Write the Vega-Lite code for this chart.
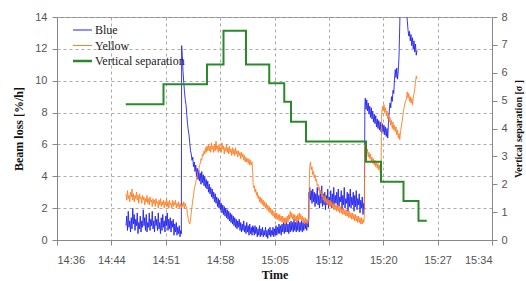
{
  "$schema": "https://vega.github.io/schema/vega-lite/v6.json",
  "width": 435,
  "height": 223,
  "autosize": {"type": "none"},
  "padding": {"left": 57, "top": 17, "right": 34, "bottom": 41},
  "background": "white",
  "config": {
    "view": {"stroke": "#8c8c8c", "strokeWidth": 1},
    "axis": {
      "labelFont": "Liberation Sans",
      "labelFontSize": 11,
      "labelColor": "#555555",
      "titleFont": "Liberation Serif",
      "titleFontWeight": "bold",
      "titleColor": "#111111",
      "domainColor": "#888888",
      "tickColor": "#888888",
      "gridColor": "#aaaaaa",
      "gridDash": [3, 3],
      "tickSize": 5
    }
  },
  "layer": [
    {
      "data": {
        "values": [
          {"t":9.2,"Blue":0.9,"Yellow":2.9},{"t":9.3,"Blue":1.5,"Yellow":2.5},{"t":9.4,"Blue":0.6,"Yellow":3.1},{"t":9.5,"Blue":1.8,"Yellow":2.6},{"t":9.6,"Blue":0.8,"Yellow":2.8},{"t":9.7,"Blue":1.2,"Yellow":2.4},{"t":9.8,"Blue":0.5,"Yellow":3.0},{"t":9.9,"Blue":1.4,"Yellow":2.7},
          {"t":10.0,"Blue":0.7,"Yellow":3.2},{"t":10.1,"Blue":2.0,"Yellow":2.5},{"t":10.2,"Blue":1.0,"Yellow":2.9},{"t":10.3,"Blue":1.6,"Yellow":2.4},{"t":10.4,"Blue":0.6,"Yellow":2.8},{"t":10.5,"Blue":1.3,"Yellow":2.6},{"t":10.6,"Blue":0.9,"Yellow":3.0},{"t":10.7,"Blue":1.7,"Yellow":2.5},{"t":10.8,"Blue":0.4,"Yellow":2.8},{"t":10.9,"Blue":1.1,"Yellow":2.3},
          {"t":11.0,"Blue":0.7,"Yellow":2.9},{"t":11.1,"Blue":1.5,"Yellow":2.6},{"t":11.2,"Blue":0.5,"Yellow":2.7},{"t":11.3,"Blue":1.2,"Yellow":2.3},{"t":11.4,"Blue":0.8,"Yellow":2.8},{"t":11.5,"Blue":1.9,"Yellow":2.5},{"t":11.6,"Blue":0.9,"Yellow":2.7},{"t":11.7,"Blue":1.4,"Yellow":2.2},{"t":11.8,"Blue":0.6,"Yellow":2.6},{"t":11.9,"Blue":1.6,"Yellow":2.4},
          {"t":12.0,"Blue":0.5,"Yellow":2.8},{"t":12.1,"Blue":1.1,"Yellow":2.3},{"t":12.2,"Blue":0.8,"Yellow":2.6},{"t":12.3,"Blue":1.7,"Yellow":2.2},{"t":12.4,"Blue":0.6,"Yellow":2.7},{"t":12.5,"Blue":1.3,"Yellow":2.4},{"t":12.6,"Blue":0.9,"Yellow":2.5},{"t":12.7,"Blue":1.8,"Yellow":2.1},{"t":12.8,"Blue":0.7,"Yellow":2.6},{"t":12.9,"Blue":1.2,"Yellow":2.3},
          {"t":13.0,"Blue":0.5,"Yellow":2.5},{"t":13.1,"Blue":1.5,"Yellow":2.1},{"t":13.2,"Blue":0.9,"Yellow":2.6},{"t":13.3,"Blue":1.3,"Yellow":2.3},{"t":13.4,"Blue":0.6,"Yellow":2.4},{"t":13.5,"Blue":1.7,"Yellow":2.0},{"t":13.6,"Blue":0.7,"Yellow":2.5},{"t":13.7,"Blue":1.1,"Yellow":2.2},{"t":13.8,"Blue":0.4,"Yellow":2.6},{"t":13.9,"Blue":1.4,"Yellow":2.1},
          {"t":14.0,"Blue":0.6,"Yellow":2.4},{"t":14.1,"Blue":1.6,"Yellow":2.2},{"t":14.2,"Blue":0.8,"Yellow":2.5},{"t":14.3,"Blue":1.2,"Yellow":2.0},{"t":14.4,"Blue":0.5,"Yellow":2.4},{"t":14.5,"Blue":1.5,"Yellow":2.2},{"t":14.6,"Blue":0.9,"Yellow":2.6},{"t":14.7,"Blue":1.7,"Yellow":2.1},{"t":14.8,"Blue":0.6,"Yellow":2.4},{"t":14.9,"Blue":1.3,"Yellow":2.0},
          {"t":15.0,"Blue":0.7,"Yellow":2.5},{"t":15.1,"Blue":1.4,"Yellow":2.2},{"t":15.2,"Blue":0.5,"Yellow":2.3},{"t":15.3,"Blue":1.2,"Yellow":2.0},{"t":15.4,"Blue":0.8,"Yellow":2.5},{"t":15.5,"Blue":1.3,"Yellow":2.1},{"t":15.6,"Blue":0.3,"Yellow":2.4},{"t":15.7,"Blue":1.0,"Yellow":2.2},{"t":15.8,"Blue":0.5,"Yellow":2.5},{"t":15.9,"Blue":1.1,"Yellow":2.0},
          {"t":16.0,"Blue":0.3,"Yellow":2.3},{"t":16.1,"Blue":0.8,"Yellow":2.1},{"t":16.2,"Blue":0.4,"Yellow":2.4},{"t":16.3,"Blue":0.9,"Yellow":2.0},{"t":16.4,"Blue":0.2,"Yellow":2.3},{"t":16.5,"Blue":0.6,"Yellow":2.1},{"t":16.58,"Blue":0.4,"Yellow":2.2},{"t":16.62,"Blue":12.2,"Yellow":2.0},{"t":16.7,"Blue":11.6,"Yellow":2.3},{"t":16.8,"Blue":10.6,"Yellow":2.1},{"t":16.9,"Blue":9.9,"Yellow":2.4},
          {"t":17.0,"Blue":9.3,"Yellow":2.0},{"t":17.1,"Blue":8.8,"Yellow":2.3},{"t":17.2,"Blue":8.5,"Yellow":2.1},{"t":17.3,"Blue":7.9,"Yellow":2.0},{"t":17.4,"Blue":7.3,"Yellow":1.6},{"t":17.5,"Blue":6.9,"Yellow":1.3},{"t":17.6,"Blue":6.6,"Yellow":1.1},{"t":17.7,"Blue":6.1,"Yellow":1.0},{"t":17.8,"Blue":5.6,"Yellow":1.3},{"t":17.9,"Blue":5.4,"Yellow":1.7},
          {"t":18.0,"Blue":5.0,"Yellow":2.1},{"t":18.1,"Blue":5.2,"Yellow":2.5},{"t":18.2,"Blue":4.6,"Yellow":2.8},{"t":18.3,"Blue":4.9,"Yellow":3.2},{"t":18.4,"Blue":4.3,"Yellow":3.4},{"t":18.5,"Blue":4.7,"Yellow":3.6},{"t":18.6,"Blue":4.0,"Yellow":3.9},{"t":18.7,"Blue":4.5,"Yellow":4.0},{"t":18.8,"Blue":3.8,"Yellow":4.3},{"t":18.9,"Blue":4.4,"Yellow":4.4},
          {"t":19.0,"Blue":3.7,"Yellow":4.7},{"t":19.1,"Blue":4.2,"Yellow":4.8},{"t":19.2,"Blue":3.5,"Yellow":5.1},{"t":19.3,"Blue":4.3,"Yellow":5.0},{"t":19.4,"Blue":3.6,"Yellow":5.4},{"t":19.5,"Blue":4.1,"Yellow":5.3},{"t":19.6,"Blue":3.4,"Yellow":5.6},{"t":19.7,"Blue":4.0,"Yellow":5.4},{"t":19.8,"Blue":3.3,"Yellow":5.8},{"t":19.9,"Blue":3.8,"Yellow":5.5},
          {"t":20.0,"Blue":3.2,"Yellow":5.9},{"t":20.1,"Blue":3.7,"Yellow":5.6},{"t":20.2,"Blue":3.0,"Yellow":6.0},{"t":20.3,"Blue":3.5,"Yellow":5.6},{"t":20.4,"Blue":2.9,"Yellow":5.9},{"t":20.5,"Blue":3.3,"Yellow":5.5},{"t":20.6,"Blue":2.7,"Yellow":6.1},{"t":20.7,"Blue":3.2,"Yellow":5.7},{"t":20.8,"Blue":2.6,"Yellow":5.9},{"t":20.9,"Blue":3.0,"Yellow":5.5},
          {"t":21.0,"Blue":2.4,"Yellow":6.0},{"t":21.1,"Blue":2.9,"Yellow":5.6},{"t":21.2,"Blue":2.3,"Yellow":6.2},{"t":21.3,"Blue":2.7,"Yellow":5.7},{"t":21.4,"Blue":2.1,"Yellow":5.9},{"t":21.5,"Blue":2.6,"Yellow":5.5},{"t":21.6,"Blue":2.0,"Yellow":6.0},{"t":21.7,"Blue":2.5,"Yellow":5.6},{"t":21.8,"Blue":1.9,"Yellow":5.8},{"t":21.9,"Blue":2.3,"Yellow":5.5},
          {"t":22.0,"Blue":1.7,"Yellow":6.1},{"t":22.1,"Blue":2.2,"Yellow":5.7},{"t":22.2,"Blue":1.6,"Yellow":5.9},{"t":22.3,"Blue":2.1,"Yellow":5.4},{"t":22.4,"Blue":1.5,"Yellow":5.8},{"t":22.5,"Blue":2.0,"Yellow":5.6},{"t":22.6,"Blue":1.4,"Yellow":6.0},{"t":22.7,"Blue":1.9,"Yellow":5.5},{"t":22.8,"Blue":1.3,"Yellow":5.8},{"t":22.9,"Blue":1.8,"Yellow":5.4},
          {"t":23.0,"Blue":1.2,"Yellow":5.9},{"t":23.1,"Blue":1.7,"Yellow":5.5},{"t":23.2,"Blue":1.1,"Yellow":5.7},{"t":23.3,"Blue":1.6,"Yellow":5.3},{"t":23.4,"Blue":1.0,"Yellow":5.8},{"t":23.5,"Blue":1.5,"Yellow":5.4},{"t":23.6,"Blue":0.9,"Yellow":5.7},{"t":23.7,"Blue":1.4,"Yellow":5.3},{"t":23.8,"Blue":0.8,"Yellow":5.8},{"t":23.9,"Blue":1.3,"Yellow":5.4},
          {"t":24.0,"Blue":0.7,"Yellow":5.6},{"t":24.1,"Blue":1.2,"Yellow":5.2},{"t":24.2,"Blue":0.8,"Yellow":5.6},{"t":24.3,"Blue":1.3,"Yellow":5.3},{"t":24.4,"Blue":0.6,"Yellow":5.5},{"t":24.5,"Blue":1.1,"Yellow":5.1},{"t":24.6,"Blue":0.5,"Yellow":5.5},{"t":24.7,"Blue":1.0,"Yellow":5.2},{"t":24.8,"Blue":0.6,"Yellow":5.4},{"t":24.9,"Blue":1.2,"Yellow":5.0},
          {"t":25.0,"Blue":0.5,"Yellow":5.3},{"t":25.1,"Blue":0.9,"Yellow":4.9},{"t":25.2,"Blue":0.4,"Yellow":5.2},{"t":25.3,"Blue":1.1,"Yellow":4.9},{"t":25.4,"Blue":0.5,"Yellow":5.1},{"t":25.5,"Blue":0.9,"Yellow":4.8},{"t":25.6,"Blue":0.3,"Yellow":5.1},{"t":25.7,"Blue":1.0,"Yellow":4.7},{"t":25.8,"Blue":0.4,"Yellow":5.0},{"t":25.9,"Blue":0.8,"Yellow":4.7},
          {"t":26.0,"Blue":0.3,"Yellow":4.9},{"t":26.1,"Blue":0.9,"Yellow":4.2},{"t":26.15,"Blue":0.5,"Yellow":3.5},{"t":26.2,"Blue":0.8,"Yellow":3.3},{"t":26.3,"Blue":0.3,"Yellow":3.4},{"t":26.4,"Blue":0.9,"Yellow":3.0},{"t":26.5,"Blue":0.4,"Yellow":3.2},{"t":26.6,"Blue":0.8,"Yellow":2.8},{"t":26.7,"Blue":0.2,"Yellow":3.0},{"t":26.8,"Blue":0.7,"Yellow":2.6},{"t":26.9,"Blue":0.3,"Yellow":2.8},
          {"t":27.0,"Blue":0.9,"Yellow":2.4},{"t":27.1,"Blue":0.2,"Yellow":2.7},{"t":27.2,"Blue":0.7,"Yellow":2.3},{"t":27.3,"Blue":0.3,"Yellow":2.6},{"t":27.4,"Blue":0.8,"Yellow":2.2},{"t":27.5,"Blue":0.2,"Yellow":2.5},{"t":27.6,"Blue":0.6,"Yellow":2.1},{"t":27.7,"Blue":0.3,"Yellow":2.4},{"t":27.8,"Blue":0.8,"Yellow":2.0},{"t":27.9,"Blue":0.2,"Yellow":2.3},
          {"t":28.0,"Blue":0.6,"Yellow":1.9},{"t":28.1,"Blue":0.1,"Yellow":2.2},{"t":28.2,"Blue":0.7,"Yellow":1.8},{"t":28.3,"Blue":0.3,"Yellow":2.1},{"t":28.4,"Blue":0.8,"Yellow":1.7},{"t":28.5,"Blue":0.2,"Yellow":2.0},{"t":28.6,"Blue":0.6,"Yellow":1.6},{"t":28.7,"Blue":0.3,"Yellow":1.9},{"t":28.8,"Blue":0.8,"Yellow":1.5},{"t":28.9,"Blue":0.2,"Yellow":1.8},
          {"t":29.0,"Blue":0.7,"Yellow":1.4},{"t":29.1,"Blue":0.3,"Yellow":1.7},{"t":29.2,"Blue":0.9,"Yellow":1.3},{"t":29.3,"Blue":0.3,"Yellow":1.7},{"t":29.4,"Blue":0.8,"Yellow":1.3},{"t":29.5,"Blue":0.4,"Yellow":1.6},{"t":29.6,"Blue":1.0,"Yellow":1.2},{"t":29.7,"Blue":0.4,"Yellow":1.6},{"t":29.8,"Blue":0.9,"Yellow":1.2},{"t":29.9,"Blue":0.3,"Yellow":1.5},
          {"t":30.0,"Blue":1.0,"Yellow":1.1},{"t":30.1,"Blue":0.5,"Yellow":1.5},{"t":30.2,"Blue":1.1,"Yellow":1.1},{"t":30.3,"Blue":0.4,"Yellow":1.4},{"t":30.4,"Blue":1.0,"Yellow":1.0},{"t":30.5,"Blue":0.5,"Yellow":1.4},{"t":30.6,"Blue":1.2,"Yellow":1.1},{"t":30.7,"Blue":0.5,"Yellow":1.5},{"t":30.8,"Blue":1.0,"Yellow":1.1},{"t":30.9,"Blue":0.4,"Yellow":1.6},
          {"t":31.0,"Blue":1.1,"Yellow":1.3},{"t":31.1,"Blue":0.5,"Yellow":1.8},{"t":31.2,"Blue":1.2,"Yellow":1.4},{"t":31.3,"Blue":0.6,"Yellow":1.7},{"t":31.4,"Blue":1.1,"Yellow":1.3},{"t":31.5,"Blue":0.5,"Yellow":1.6},{"t":31.6,"Blue":1.3,"Yellow":1.2},{"t":31.7,"Blue":0.6,"Yellow":1.6},{"t":31.8,"Blue":1.1,"Yellow":1.2},{"t":31.9,"Blue":0.5,"Yellow":1.5},
          {"t":32.0,"Blue":1.2,"Yellow":1.1},{"t":32.1,"Blue":0.6,"Yellow":1.6},{"t":32.2,"Blue":1.3,"Yellow":1.2},{"t":32.3,"Blue":0.5,"Yellow":1.7},{"t":32.4,"Blue":1.1,"Yellow":1.3},{"t":32.5,"Blue":0.6,"Yellow":1.6},{"t":32.6,"Blue":1.2,"Yellow":1.2},{"t":32.7,"Blue":0.5,"Yellow":1.5},{"t":32.8,"Blue":1.1,"Yellow":1.1},{"t":32.9,"Blue":0.6,"Yellow":1.4},
          {"t":33.0,"Blue":1.2,"Yellow":1.0},{"t":33.1,"Blue":0.7,"Yellow":1.4},{"t":33.2,"Blue":1.1,"Yellow":1.1},{"t":33.3,"Blue":0.6,"Yellow":1.3},{"t":33.4,"Blue":1.2,"Yellow":1.0},{"t":33.5,"Blue":0.8,"Yellow":1.3},{"t":33.55,"Blue":1.1,"Yellow":1.2},
          {"t":33.6,"Blue":3.0,"Yellow":1.4},{"t":33.65,"Blue":2.6,"Yellow":3.8},{"t":33.7,"Blue":3.3,"Yellow":4.6},{"t":33.8,"Blue":2.5,"Yellow":4.9},{"t":33.9,"Blue":3.1,"Yellow":4.4},
          {"t":34.0,"Blue":2.3,"Yellow":4.6},{"t":34.1,"Blue":3.2,"Yellow":4.1},{"t":34.2,"Blue":2.4,"Yellow":4.3},{"t":34.3,"Blue":3.0,"Yellow":3.9},{"t":34.4,"Blue":2.1,"Yellow":4.1},{"t":34.5,"Blue":2.9,"Yellow":3.7},{"t":34.6,"Blue":2.3,"Yellow":3.8},{"t":34.7,"Blue":3.3,"Yellow":3.4},{"t":34.8,"Blue":2.2,"Yellow":3.5},{"t":34.9,"Blue":2.8,"Yellow":3.1},
          {"t":35.0,"Blue":2.0,"Yellow":3.3},{"t":35.1,"Blue":3.1,"Yellow":2.9},{"t":35.2,"Blue":2.3,"Yellow":3.1},{"t":35.3,"Blue":3.4,"Yellow":2.7},{"t":35.4,"Blue":2.1,"Yellow":2.9},{"t":35.5,"Blue":2.9,"Yellow":2.5},{"t":35.6,"Blue":2.2,"Yellow":2.8},{"t":35.7,"Blue":3.0,"Yellow":2.4},{"t":35.8,"Blue":1.9,"Yellow":2.7},{"t":35.9,"Blue":2.8,"Yellow":2.3},
          {"t":36.0,"Blue":2.2,"Yellow":2.6},{"t":36.1,"Blue":3.2,"Yellow":2.2},{"t":36.2,"Blue":2.0,"Yellow":2.5},{"t":36.3,"Blue":2.7,"Yellow":2.1},{"t":36.4,"Blue":2.3,"Yellow":2.5},{"t":36.5,"Blue":3.1,"Yellow":2.1},{"t":36.6,"Blue":2.0,"Yellow":2.4},{"t":36.7,"Blue":2.9,"Yellow":2.0},{"t":36.8,"Blue":2.2,"Yellow":2.3},{"t":36.9,"Blue":3.3,"Yellow":1.9},
          {"t":37.0,"Blue":2.1,"Yellow":2.3},{"t":37.1,"Blue":2.8,"Yellow":1.9},{"t":37.2,"Blue":2.3,"Yellow":2.2},{"t":37.3,"Blue":3.0,"Yellow":1.8},{"t":37.4,"Blue":2.0,"Yellow":2.2},{"t":37.5,"Blue":3.2,"Yellow":1.8},{"t":37.6,"Blue":2.1,"Yellow":2.1},{"t":37.7,"Blue":2.7,"Yellow":1.7},{"t":37.8,"Blue":2.4,"Yellow":2.1},{"t":37.9,"Blue":3.1,"Yellow":1.7},
          {"t":38.0,"Blue":1.9,"Yellow":2.0},{"t":38.1,"Blue":2.8,"Yellow":1.6},{"t":38.2,"Blue":2.2,"Yellow":2.0},{"t":38.3,"Blue":3.3,"Yellow":1.6},{"t":38.4,"Blue":2.0,"Yellow":1.9},{"t":38.5,"Blue":2.6,"Yellow":1.5},{"t":38.6,"Blue":2.3,"Yellow":1.9},{"t":38.7,"Blue":3.0,"Yellow":1.5},{"t":38.8,"Blue":1.8,"Yellow":1.8},{"t":38.9,"Blue":2.9,"Yellow":1.4},
          {"t":39.0,"Blue":2.1,"Yellow":1.8},{"t":39.1,"Blue":3.2,"Yellow":1.4},{"t":39.2,"Blue":2.0,"Yellow":1.7},{"t":39.3,"Blue":2.7,"Yellow":1.3},{"t":39.4,"Blue":2.2,"Yellow":1.7},{"t":39.5,"Blue":3.0,"Yellow":1.3},{"t":39.6,"Blue":1.8,"Yellow":1.6},{"t":39.7,"Blue":2.8,"Yellow":1.2},{"t":39.8,"Blue":2.1,"Yellow":1.6},{"t":39.9,"Blue":3.1,"Yellow":1.2},
          {"t":40.0,"Blue":1.9,"Yellow":1.5},{"t":40.1,"Blue":2.6,"Yellow":1.1},{"t":40.2,"Blue":2.2,"Yellow":1.5},{"t":40.3,"Blue":2.9,"Yellow":1.1},{"t":40.4,"Blue":1.7,"Yellow":1.4},{"t":40.5,"Blue":2.5,"Yellow":1.0},{"t":40.6,"Blue":2.0,"Yellow":1.4},{"t":40.7,"Blue":2.7,"Yellow":1.0},{"t":40.8,"Blue":1.6,"Yellow":1.3},{"t":40.9,"Blue":2.3,"Yellow":1.1},{"t":40.98,"Blue":1.9,"Yellow":1.5},
          {"t":41.05,"Blue":8.4,"Yellow":6.0},{"t":41.1,"Blue":8.9,"Yellow":5.6},{"t":41.2,"Blue":8.2,"Yellow":5.8},{"t":41.3,"Blue":8.8,"Yellow":5.4},{"t":41.4,"Blue":8.1,"Yellow":5.7},{"t":41.5,"Blue":8.6,"Yellow":5.2},{"t":41.6,"Blue":7.9,"Yellow":5.5},{"t":41.7,"Blue":8.4,"Yellow":5.1},{"t":41.8,"Blue":7.7,"Yellow":5.4},{"t":41.9,"Blue":8.3,"Yellow":4.9},
          {"t":42.0,"Blue":7.6,"Yellow":5.2},{"t":42.1,"Blue":8.1,"Yellow":4.8},{"t":42.2,"Blue":7.4,"Yellow":5.1},{"t":42.3,"Blue":7.9,"Yellow":4.7},{"t":42.4,"Blue":7.3,"Yellow":5.0},{"t":42.5,"Blue":7.8,"Yellow":4.6},{"t":42.6,"Blue":7.1,"Yellow":4.9},{"t":42.7,"Blue":7.6,"Yellow":4.5},{"t":42.8,"Blue":7.0,"Yellow":4.8},{"t":42.9,"Blue":7.5,"Yellow":4.4},
          {"t":43.0,"Blue":6.9,"Yellow":4.7},{"t":43.1,"Blue":7.4,"Yellow":4.2},{"t":43.2,"Blue":6.8,"Yellow":4.0},{"t":43.25,"Blue":7.2,"Yellow":6.5},{"t":43.3,"Blue":6.7,"Yellow":8.0},{"t":43.4,"Blue":7.3,"Yellow":8.4},{"t":43.5,"Blue":6.8,"Yellow":8.1},{"t":43.6,"Blue":7.2,"Yellow":8.5},{"t":43.7,"Blue":6.6,"Yellow":8.0},{"t":43.8,"Blue":7.1,"Yellow":8.3},{"t":43.9,"Blue":6.5,"Yellow":7.8},
          {"t":44.0,"Blue":7.0,"Yellow":8.1},{"t":44.1,"Blue":6.4,"Yellow":7.6},{"t":44.2,"Blue":7.4,"Yellow":7.9},{"t":44.3,"Blue":8.1,"Yellow":7.4},{"t":44.4,"Blue":8.6,"Yellow":7.7},{"t":44.5,"Blue":8.3,"Yellow":7.2},{"t":44.6,"Blue":9.0,"Yellow":7.5},{"t":44.7,"Blue":8.7,"Yellow":7.0},{"t":44.8,"Blue":9.4,"Yellow":7.4},{"t":44.9,"Blue":9.2,"Yellow":6.9},
          {"t":45.0,"Blue":10.1,"Yellow":7.2},{"t":45.1,"Blue":10.7,"Yellow":6.8},{"t":45.2,"Blue":10.2,"Yellow":7.1},{"t":45.3,"Blue":10.8,"Yellow":6.6},{"t":45.4,"Blue":10.1,"Yellow":6.9},{"t":45.5,"Blue":10.6,"Yellow":6.4},{"t":45.6,"Blue":11.5,"Yellow":6.7},{"t":45.7,"Blue":13.5,"Yellow":6.3},{"t":45.8,"Blue":15.5,"Yellow":6.8},
          {"t":46.0,"Blue":16.0,"Yellow":7.4},{"t":46.2,"Blue":15.8,"Yellow":8.1},{"t":46.4,"Blue":15.2,"Yellow":8.6},{"t":46.6,"Blue":14.5,"Yellow":8.9},{"t":46.7,"Blue":13.8,"Yellow":9.3},{"t":46.8,"Blue":13.2,"Yellow":8.9},{"t":46.9,"Blue":12.8,"Yellow":9.2},
          {"t":47.0,"Blue":13.1,"Yellow":8.7},{"t":47.1,"Blue":12.5,"Yellow":9.0},{"t":47.2,"Blue":12.9,"Yellow":8.6},{"t":47.3,"Blue":12.2,"Yellow":8.9},{"t":47.4,"Blue":12.7,"Yellow":8.5},{"t":47.5,"Blue":12.0,"Yellow":8.9},{"t":47.6,"Blue":12.5,"Yellow":9.2},{"t":47.7,"Blue":11.8,"Yellow":9.5},{"t":47.8,"Blue":12.3,"Yellow":9.9},{"t":47.9,"Blue":11.6,"Yellow":10.3},{"t":48.0,"Blue":11.9,"Yellow":10.1}
        ]
      },
      "transform": [{"fold": ["Blue", "Yellow"], "as": ["series", "value"]}],
      "mark": {"type": "line", "clip": true, "strokeWidth": 0.9},
      "encoding": {
        "x": {
          "field": "t", "type": "quantitative",
          "scale": {"domain": [0, 58], "nice": false, "zero": false},
          "axis": {
            "values": [0, 7.25, 14.5, 21.75, 29, 36.25, 43.5, 50.75, 58],
            "labelExpr": "['14:36','14:44','14:51','14:58','15:05','15:12','15:20','15:27','15:34'][round(datum.value/7.25)]",
            "title": "Time", "titleFontSize": 12, "grid": true,
            "labelPadding": 9, "titlePadding": 4
          }
        },
        "y": {
          "field": "value", "type": "quantitative",
          "scale": {"domain": [0, 14], "nice": false},
          "axis": {
            "values": [0, 2, 4, 6, 8, 10, 12, 14],
            "title": "Beam loss [%/h]", "titleFontSize": 12, "grid": true,
            "labelPadding": 5, "titlePadding": 9
          }
        },
        "color": {
          "field": "series", "type": "nominal",
          "scale": {"domain": ["Blue", "Yellow", "Vertical separation"], "range": ["#2222ee", "#ff7f27", "#2a8a2a"]},
          "legend": {
            "orient": "none", "legendX": 16, "legendY": 7, "title": null,
            "symbolType": "stroke", "symbolSize": 361, "symbolStrokeWidth": 1,
            "labelFont": "Liberation Serif", "labelFontSize": 12, "labelColor": "#222222",
            "rowPadding": 3.5, "labelOffset": 3,
            "encode": {
              "symbols": {"update": {"x": {"value": 9.5}, "size": {"value": 361}, "strokeWidth": {"signal": "datum.value === 'Vertical separation' ? 2.5 : 1"}}},
              "labels": {"update": {"x": {"value": 22}}}
            }
          }
        }
      }
    },
    {
      "data": {
        "values": [
          {"t": 9.16, "sep": 4.87, "series": "Vertical separation"},
          {"t": 14.2, "sep": 5.59, "series": "Vertical separation"},
          {"t": 20.0, "sep": 6.30, "series": "Vertical separation"},
          {"t": 22.2, "sep": 7.51, "series": "Vertical separation"},
          {"t": 25.2, "sep": 6.30, "series": "Vertical separation"},
          {"t": 28.3, "sep": 5.62, "series": "Vertical separation"},
          {"t": 30.3, "sep": 4.96, "series": "Vertical separation"},
          {"t": 31.2, "sep": 4.24, "series": "Vertical separation"},
          {"t": 33.2, "sep": 3.53, "series": "Vertical separation"},
          {"t": 41.2, "sep": 2.81, "series": "Vertical separation"},
          {"t": 43.2, "sep": 2.09, "series": "Vertical separation"},
          {"t": 46.2, "sep": 1.40, "series": "Vertical separation"},
          {"t": 48.2, "sep": 0.69, "series": "Vertical separation"},
          {"t": 49.3, "sep": 0.69, "series": "Vertical separation"}
        ]
      },
      "mark": {"type": "line", "interpolate": "step-after", "clip": true, "strokeWidth": 2},
      "encoding": {
        "x": {"field": "t", "type": "quantitative", "scale": {"domain": [0, 58], "nice": false, "zero": false}},
        "y": {
          "field": "sep", "type": "quantitative",
          "scale": {"domain": [0, 8], "nice": false},
          "axis": {
            "orient": "right", "values": [0, 1, 2, 3, 4, 5, 6, 7, 8],
            "title": "Vertical separation [σ ]", "titleFontSize": 10, "titleAngle": 270,
            "grid": false, "labelPadding": 4, "titlePadding": 16
          }
        },
        "color": {"field": "series", "type": "nominal"}
      }
    }
  ],
  "resolve": {"scale": {"y": "independent"}}
}
